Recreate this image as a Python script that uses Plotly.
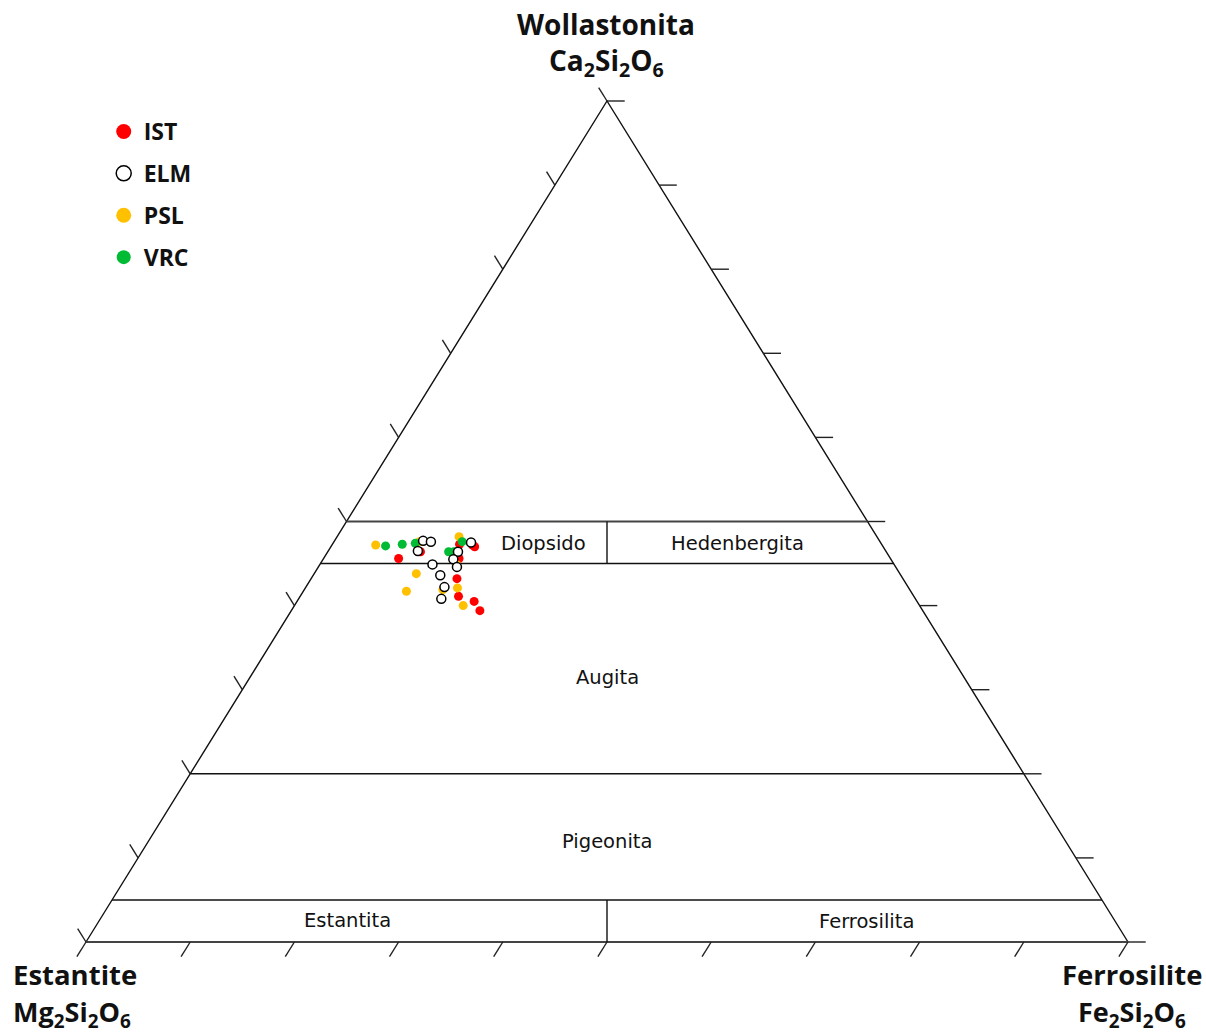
import plotly.graph_objects as go

# ---------------- data (Wo, En, Fs in %) ----------------
series_names = ["IST", "ELM", "PSL", "VRC"]

IST_Wo = [45.6, 46.4, 47.3, 47.0, 47.2, 45.6, 43.2, 41.1, 40.5, 39.4]
IST_En = [47.2, 44.7, 40.5, 39.2, 39.3, 41.4, 42.8, 43.7, 42.5, 42.5]
IST_Fs = [7.2, 8.9, 12.2, 13.8, 13.5, 13.0, 14.0, 15.2, 17.0, 18.1]

ELM_Wo = [47.7, 47.6, 46.5, 44.9, 43.6, 42.2, 40.8, 47.5, 46.4, 45.5, 44.6]
ELM_En = [43.8, 43.1, 44.9, 44.3, 44.2, 44.5, 45.5, 39.3, 41.1, 42.0, 42.1]
ELM_Fs = [8.5, 9.3, 8.6, 10.8, 12.2, 13.3, 13.7, 13.2, 12.5, 12.5, 13.3]

PSL_Wo = [47.2, 47.6, 43.8, 41.7, 41.9, 48.2, 44.9, 42.1, 40.0]
PSL_En = [48.6, 44.2, 46.4, 48.4, 44.8, 40.1, 42.0, 43.3, 43.8]
PSL_Fs = [4.2, 8.2, 9.8, 9.9, 13.3, 11.7, 13.1, 14.6, 16.2]

VRC_Wo = [47.1, 47.3, 47.4, 47.6, 46.4, 46.4]
VRC_En = [47.7, 46.0, 44.7, 40.1, 42.0, 41.5]
VRC_Fs = [5.2, 6.7, 7.9, 12.3, 11.6, 12.1]

# field boundaries (Wo levels) and tick values
field_wo_levels = [50, 45, 20, 5]
tick_values = list(range(0, 101, 10))

field_names = ["Diopsido", "Hedenbergita", "Augita", "Pigeonita", "Estantita", "Ferrosilita"]
# label anchor compositions (Wo, En, Fs)
field_label_pos = [(47.4, 32.4, 20.2), (47.4, 13.8, 38.8), (31.4, 34.3, 34.3),
                   (11.9, 44.05, 44.05), (2.6, 73.65, 23.75), (2.4, 23.94, 73.66)]


def to_xy(wo, en, fs):
    wo, en, fs = list(wo), list(en), list(fs)
    xs, ys = [], []
    for a, b, c in zip(wo, en, fs):
        t = a + b + c
        xs.append((c + a / 2.0) / t * 100.0)
        ys.append(a / t * 100.0)
    return xs, ys


fig = go.Figure()

EDGE = dict(color="#111111", width=1.4)
GREY = dict(color="#444444", width=2.2)

# triangle edges
ex, ey = to_xy([0, 100, 0], [100, 0, 0], [0, 0, 100])
fig.add_trace(go.Scatter(x=ex, y=ey, mode="lines", line=EDGE,
                         hoverinfo="skip", showlegend=False))
bx, by = to_xy([0, 0], [100, 0], [0, 100])
fig.add_trace(go.Scatter(x=bx, y=by, mode="lines", line=GREY, hoverinfo="skip", showlegend=False))

# horizontal field boundaries
for w in field_wo_levels:
    hx, hy = to_xy([w, w], [100 - w, 0], [0, 100 - w])
    fig.add_trace(go.Scatter(x=hx, y=hy, mode="lines", line=GREY if w == 50 else EDGE,
                             hoverinfo="skip", showlegend=False))

# En = Fs dividers
for w0, w1 in [(45, 50), (0, 5)]:
    vx, vy = to_xy([w0, w1], [(100 - w0) / 2, (100 - w1) / 2], [(100 - w0) / 2, (100 - w1) / 2])
    fig.add_trace(go.Scatter(x=vx, y=vy, mode="lines", line=EDGE, hoverinfo="skip", showlegend=False))

# ticks
D_LEFT, D_RIGHT, D_BOT = 1.6, 1.7, 1.75
tx, ty = [], []
for k in tick_values:
    # right edge: constant Wo
    x, y = to_xy([k, k], [0, -D_RIGHT], [100 - k, 100 - k + D_RIGHT])
    tx += x + [None]; ty += y + [None]
    # left edge: constant En
    x, y = to_xy([100 - k, 100 - k + D_LEFT], [k, k], [0, -D_LEFT])
    tx += x + [None]; ty += y + [None]
    # bottom edge: constant Fs
    x, y = to_xy([0, -D_BOT], [100 - k, 100 - k + D_BOT], [k, k])
    tx += x + [None]; ty += y + [None]
fig.add_trace(go.Scatter(x=tx, y=ty, mode="lines", line=dict(color="#222222", width=1.4),
                         hoverinfo="skip", showlegend=False))

# data series
styles = {
    "IST": dict(color="#ff0000", size=9, line=dict(width=0)),
    "PSL": dict(color="#ffc000", size=9, line=dict(width=0)),
    "VRC": dict(color="#00bb33", size=9, line=dict(width=0)),
    "ELM": dict(color="white", size=9, line=dict(color="black", width=1.5)),
}
data = {
    "IST": (IST_Wo, IST_En, IST_Fs),
    "PSL": (PSL_Wo, PSL_En, PSL_Fs),
    "VRC": (VRC_Wo, VRC_En, VRC_Fs),
    "ELM": (ELM_Wo, ELM_En, ELM_Fs),
}
for name in ["IST", "PSL", "VRC", "ELM"]:
    x, y = to_xy(*data[name])
    fig.add_trace(go.Scatter(x=x, y=y, mode="markers", marker=styles[name], name=name,
                             showlegend=False,
                             customdata=list(zip(*data[name])),
                             hovertemplate=name + "<br>Wo %{customdata[0]}<br>En %{customdata[1]}<br>Fs %{customdata[2]}<extra></extra>"))

# legend-only entries (larger symbols)
leg_size = {"IST": 15, "ELM": 15, "PSL": 15, "VRC": 14}
for i, name in enumerate(series_names):
    st = dict(styles[name]); st["size"] = leg_size[name]
    fig.add_trace(go.Scatter(x=[None], y=[None], mode="markers", marker=st, name=name,
                             legendgroup=name, showlegend=True))

# field labels
for lbl, pos in zip(field_names, field_label_pos):
    x, y = to_xy([pos[0]], [pos[1]], [pos[2]])
    fig.add_annotation(x=x[0], y=y[0], text=lbl, showarrow=False,
                       font=dict(family="DejaVu Sans", size=19.5, color="#111111"))

# end-member labels
TITLE_FONT = dict(family="Open Sans", size=28, color="#111111")
W, H = 1206, 1034
def px_ann(text, xpx, ypx, xanchor="center", size=28):
    f = dict(TITLE_FONT); f["size"] = size
    fig.add_annotation(x=xpx / W, y=1 - ypx / H, xref="paper", yref="paper", text=text,
                       showarrow=False, xanchor=xanchor, yanchor="middle", font=f)

px_ann("<b>Wollastonita</b>", 606, 24)
px_ann("<b>Ca<sub>2</sub>Si<sub>2</sub>O<sub>6</sub></b>", 606, 62)
px_ann("<b>Estantite</b>", 11, 974, "left", 27.5)
px_ann("<b>Mg<sub>2</sub>Si<sub>2</sub>O<sub>6</sub></b>", 11, 1013, "left", 27)
px_ann("<b>Ferrosilite</b>", 1204, 974, "right", 27.5)
px_ann("<b>Fe<sub>2</sub>Si<sub>2</sub>O<sub>6</sub></b>", 1132, 1013, "center", 27)

# axes mapping: x 0..100 -> px 86..1128 ; y 0..100 -> px 942..101
SX, SY = 10.42, 8.41
fig.update_xaxes(range=[-86 / SX, (W - 86) / SX], visible=False, fixedrange=True)
fig.update_yaxes(range=[-(H - 942) / SY, 942 / SY], visible=False, fixedrange=True)

fig.update_layout(
    width=W, height=H, autosize=False,
    margin=dict(l=0, r=0, t=0, b=0),
    plot_bgcolor="white", paper_bgcolor="white",
    legend=dict(x=0.086, y=1 - 110 / H, xanchor="left", yanchor="top",
                font=dict(family="Open Sans", size=23, color="#111111", weight="bold"),
                tracegroupgap=9, bgcolor="rgba(0,0,0,0)", itemsizing="trace",
                itemwidth=30),
)

fig.write_html("out.html")
